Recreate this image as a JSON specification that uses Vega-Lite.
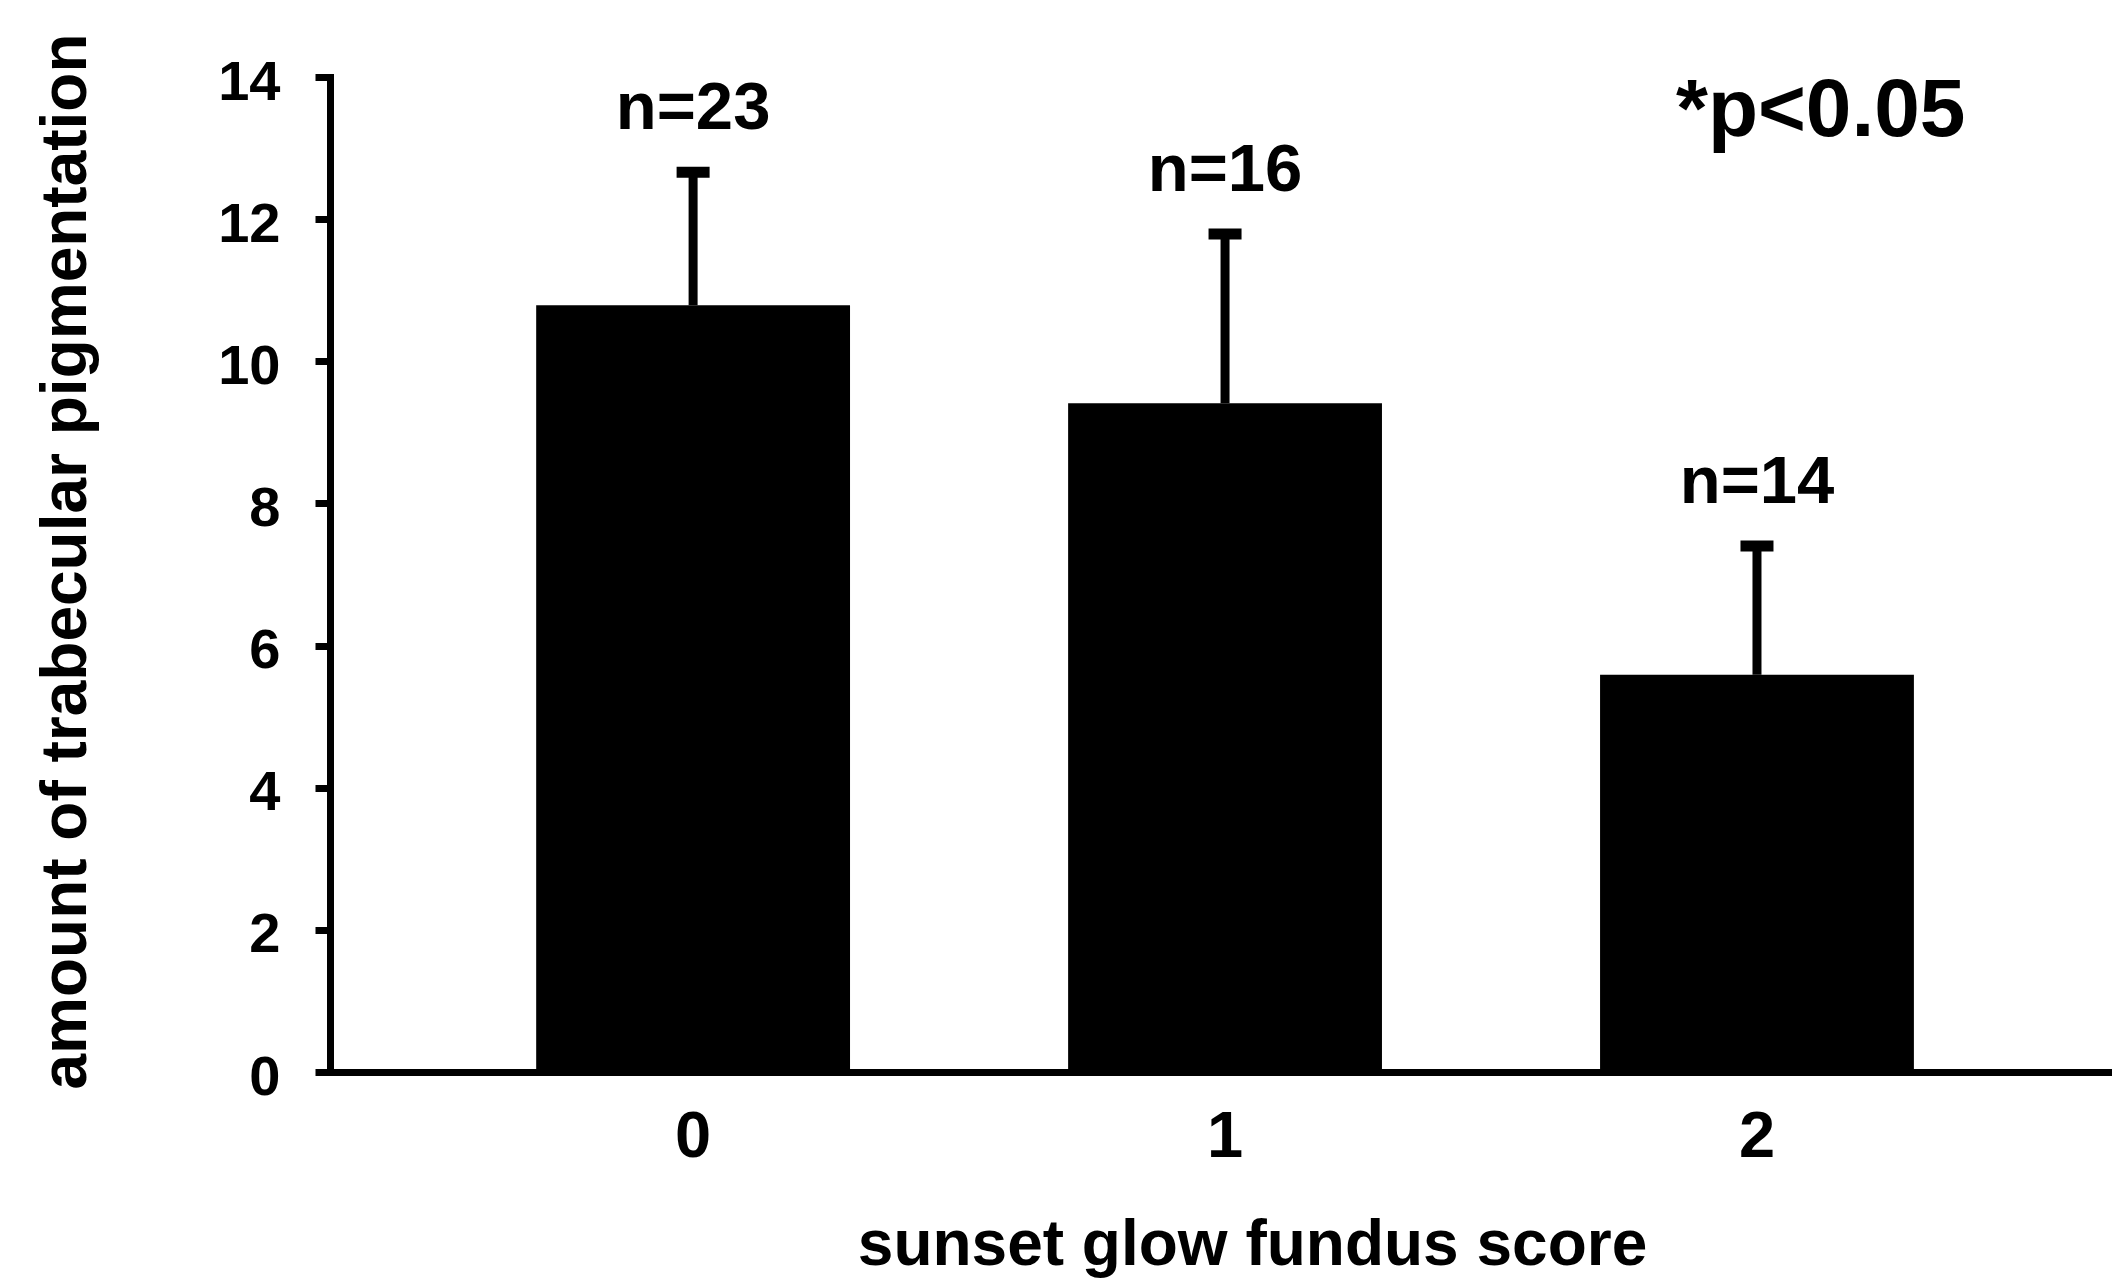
{
  "$schema": "https://vega.github.io/schema/vega-lite/v6.json",
  "width": 1782,
  "height": 995,
  "autosize": {"type": "none"},
  "padding": {"left": 330, "top": 77, "right": 0, "bottom": 207},
  "background": "white",
  "config": {"view": {"stroke": null}, "font": "Liberation Sans"},
  "data": {
    "values": [
      {"score": "0", "mean": 10.79, "hi": 12.66, "n": "n=23"},
      {"score": "1", "mean": 9.41, "hi": 11.79, "n": "n=16"},
      {"score": "2", "mean": 5.59, "hi": 7.40, "n": "n=14"}
    ]
  },
  "encoding": {
    "x": {
      "field": "score",
      "type": "nominal",
      "sort": ["0", "1", "2"],
      "scale": {"paddingInner": 0.41, "paddingOuter": 0.38, "align": 0.51},
      "axis": {
        "title": "sunset glow fundus score",
        "labelAngle": 0,
        "ticks": false,
        "domainWidth": 7,
        "domainColor": "black",
        "domainCap": "square",
        "labelFont": "Liberation Sans",
        "labelFontSize": 65,
        "labelFontWeight": "bold",
        "labelColor": "black",
        "labelPadding": 33,
        "titleFont": "Liberation Sans",
        "titleFontSize": 64,
        "titleFontWeight": "bold",
        "titleColor": "black",
        "titleX": 922,
        "titleY": 192,
        "titleBaseline": "alphabetic",
        "titleAlign": "center",
        "grid": false
      }
    }
  },
  "layer": [
    {
      "mark": {"type": "bar", "color": "black"},
      "encoding": {
        "y": {
          "field": "mean",
          "type": "quantitative",
          "scale": {"domain": [0, 14], "nice": false},
          "axis": {
            "title": "amount of trabecular pigmentation",
            "values": [0, 2, 4, 6, 8, 10, 12, 14],
            "format": "d",
            "tickSize": 15,
            "tickWidth": 7,
            "tickColor": "black",
            "domainWidth": 7,
            "domainColor": "black",
            "domainCap": "square",
            "labelFont": "Liberation Sans",
            "labelFontSize": 56,
            "labelFontWeight": "bold",
            "labelColor": "black",
            "labelPadding": 35,
            "labelOffset": 5,
            "titleFont": "Liberation Sans",
            "titleFontSize": 64,
            "titleFontWeight": "bold",
            "titleColor": "black",
            "titleX": -245,
            "titleY": 484,
            "titleAngle": -90,
            "titleBaseline": "alphabetic",
            "titleAlign": "center",
            "grid": false
          }
        }
      }
    },
    {
      "mark": {"type": "rule", "color": "black", "strokeWidth": 9},
      "encoding": {
        "y": {"field": "mean", "type": "quantitative"},
        "y2": {"field": "hi"}
      }
    },
    {
      "mark": {"type": "tick", "color": "black", "size": 33, "thickness": 11, "opacity": 1},
      "encoding": {
        "y": {"field": "hi", "type": "quantitative"}
      }
    },
    {
      "mark": {"type": "text", "fontSize": 67, "fontWeight": "bold", "font": "Liberation Sans", "baseline": "alphabetic", "dy": -43, "color": "black"},
      "encoding": {
        "y": {"field": "hi", "type": "quantitative"},
        "text": {"field": "n"}
      }
    },
    {
      "data": {"values": [{"score": "2", "y": 13.17, "label": "*p<0.05"}]},
      "mark": {"type": "text", "fontSize": 82, "fontWeight": "bold", "font": "Liberation Sans", "align": "left", "baseline": "alphabetic", "dx": -81, "color": "black"},
      "encoding": {
        "y": {"field": "y", "type": "quantitative"},
        "text": {"field": "label"}
      }
    }
  ]
}
